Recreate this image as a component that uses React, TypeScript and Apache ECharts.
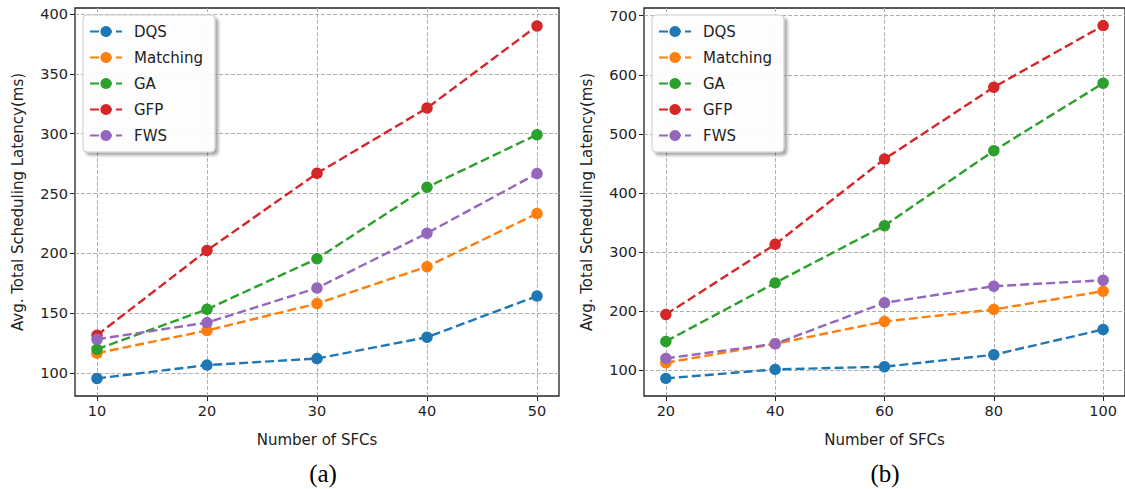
import React, { useEffect, useRef } from "react";
import * as echarts from "echarts";

const seriesNames = ["DQS", "Matching", "GA", "GFP", "FWS"];
const colors = ["#1f77b4", "#ff7f0e", "#2ca02c", "#d62728", "#9467bd"];

// (a)
const xA = [10, 20, 30, 40, 50];
const dqsA = [95.6, 106.7, 112.2, 130, 164.4];
const matchingA = [116.7, 135.6, 158.1, 188.9, 233.3];
const gaA = [120, 153.3, 195.6, 255.3, 299.2];
const gfpA = [131.7, 202.5, 266.9, 321.4, 390];
const fwsA = [128.3, 142.2, 171.1, 216.9, 266.7];
const yTicksA = [100, 150, 200, 250, 300, 350, 400];

// (b)
const xB = [20, 40, 60, 80, 100];
const dqsB = [86.5, 101.7, 106.2, 126.5, 169.2];
const matchingB = [112.9, 145, 182.7, 203, 234];
const gaB = [149, 248, 344.8, 471.5, 585.7];
const gfpB = [194.6, 313.3, 457.4, 579, 683.1];
const fwsB = [120.3, 145, 214.3, 242.4, 252.5];
const yTicksB = [100, 200, 300, 400, 500, 600, 700];

const FONT = "DejaVu Sans";

function axisCommon(ticks: number[]) {
  return {
    axisLine: { show: false },
    axisTick: { show: true, length: 5, customValues: ticks, lineStyle: { color: "#222", width: 1 } },
    axisLabel: { customValues: ticks, color: "#222", fontSize: 14.5, fontFamily: FONT, margin: 7 },
    splitLine: { show: true, lineStyle: { color: "#b0b0b0", type: [4, 2], width: 1 } },
    nameTextStyle: { color: "#222", fontSize: 15, fontFamily: FONT },
  };
}

export default function App() {
  const ref = useRef<HTMLDivElement>(null);
  useEffect(() => {
    if (!ref.current) return;
    const chart = echarts.init(ref.current, undefined, { renderer: "svg" });
    const setsA = [dqsA, matchingA, gaA, gfpA, fwsA];
    const setsB = [dqsB, matchingB, gaB, gfpB, fwsB];
    const mk = (xs: number[], ys: number[], i: number, idx: number) => ({
      type: "line",
      name: seriesNames[i],
      xAxisIndex: idx,
      yAxisIndex: idx,
      data: xs.map((x, k) => [x, ys[k]]),
      symbol: "circle",
      symbolSize: 11.5,
      color: colors[i],
      itemStyle: { color: colors[i], borderWidth: 0 },
      lineStyle: { color: colors[i], width: 2.4, type: [9, 4] },
      emphasis: { disabled: true },
    });
    const legendCommon = {
      orient: "vertical",
      top: 15,
      itemWidth: 32,
      itemHeight: 14,
      itemGap: 11,
      padding: [9, 12, 9, 6],
      backgroundColor: "rgba(255,255,255,0.95)",
      borderColor: "#cccccc",
      borderWidth: 1,
      borderRadius: 4,
      shadowColor: "rgba(0,0,0,0.35)",
      shadowBlur: 3,
      shadowOffsetX: 3,
      shadowOffsetY: 3,
      textStyle: { fontSize: 15, fontFamily: FONT, color: "#222", padding: [0, 0, 0, 7] },
      data: seriesNames,
    };
    chart.setOption({
      animation: false,
      backgroundColor: "#ffffff",
      grid: [
        { left: 75, width: 484, top: 8, bottom: 93, show: true, borderColor: "#222", borderWidth: 1.3, containLabel: false },
        { left: 644, right: -3, top: 8, bottom: 93, show: true, borderColor: "#222", borderWidth: 1.3, containLabel: false },
      ],
      xAxis: [
        { type: "value", gridIndex: 0, min: 8, max: 52, name: "Number of SFCs", nameLocation: "middle", nameGap: 36, ...axisCommon(xA) },
        { type: "value", gridIndex: 1, min: 16, max: 104, name: "Number of SFCs", nameLocation: "middle", nameGap: 36, ...axisCommon(xB) },
      ],
      yAxis: [
        { type: "value", gridIndex: 0, min: 80.9, max: 405, name: "Avg. Total Scheduling Latency(ms)", nameLocation: "middle", nameGap: 50, ...axisCommon(yTicksA) },
        { type: "value", gridIndex: 1, min: 56.7, max: 712.9, name: "Avg. Total Scheduling Latency(ms)", nameLocation: "middle", nameGap: 50, ...axisCommon(yTicksB) },
      ],
      legend: [
        { ...legendCommon, left: 83 },
        { ...legendCommon, left: 652 },
      ],
      graphic: [
        { type: "text", x: 323, y: 473, style: { text: "(a)", font: "25px 'Liberation Serif'", fill: "#000", align: "center", verticalAlign: "middle" } },
        { type: "text", x: 885, y: 473, style: { text: "(b)", font: "25px 'Liberation Serif'", fill: "#000", align: "center", verticalAlign: "middle" } },
      ],
      series: [
        ...setsA.map((ys, i) => mk(xA, ys, i, 0)),
        ...setsB.map((ys, i) => mk(xB, ys, i, 1)),
      ],
    });
    return () => chart.dispose();
  }, []);
  return <div ref={ref} style={{ position: "absolute", left: 0, top: 0, width: 1125, height: 489 }} />;
}
